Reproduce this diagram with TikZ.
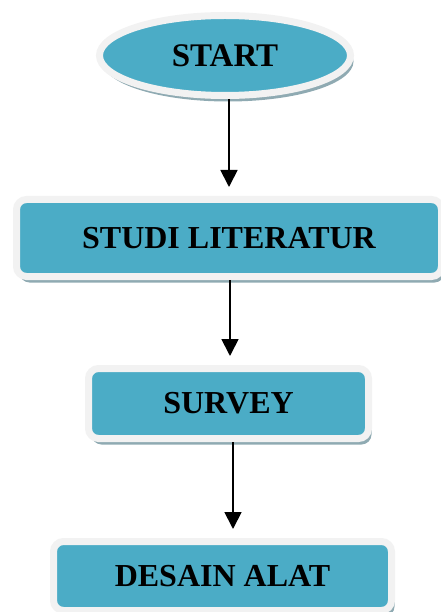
\documentclass[tikz,border=0pt]{standalone}
\usepackage{fontspec}
\setmainfont{Liberation Serif}
\usetikzlibrary{shapes.geometric, arrows.meta, shadows}
\definecolor{boxblue}{HTML}{4BACC6}
\definecolor{rimwhite}{HTML}{F2F2F2}
\definecolor{shadowgray}{HTML}{8FAAB2}
\tikzstyle{startstop} = [ellipse, minimum width=251pt, minimum height=80pt, inner sep=0pt, text centered, draw=rimwhite, line width=7pt, fill=boxblue, font=\bfseries\fontsize{33}{36}\selectfont, drop shadow={shadow xshift=3pt, shadow yshift=-6pt, fill=shadowgray, opacity=1}]
\tikzstyle{process} = [rectangle, rounded corners=10pt, inner sep=0pt, text centered, draw=rimwhite, line width=7pt, fill=boxblue, font=\bfseries\fontsize{32}{36}\selectfont, drop shadow={shadow xshift=3pt, shadow yshift=-6pt, fill=shadowgray, opacity=1}]
\tikzstyle{arrow} = [line width=1.8pt, -{Triangle[width=17pt,length=17pt]}, shorten >=9pt]

\begin{document}
\begin{tikzpicture}[x=1pt, y=-1pt]
\useasboundingbox (0,0) rectangle (440,612);

\node (start) [startstop] at (225,55.5) {START};
\node (studi) [process, minimum width=425pt, minimum height=77pt, below of=start, node distance=182.5pt, xshift=4pt] {STUDI LITERATUR};
\node (survey) [process, minimum width=280pt, minimum height=70pt, below of=studi, node distance=165.5pt, xshift=-0.5pt] {SURVEY};
\node (desain) [process, minimum width=338pt, minimum height=69pt, below of=survey, node distance=172.5pt, xshift=-6pt] {DESAIN ALAT};

\draw [arrow] ([xshift=4pt]start.south) -- ([xshift=4pt]start.south |- studi.north);
\draw [arrow] ([xshift=1pt]studi.south) -- ([xshift=1pt]studi.south |- survey.north);
\draw [arrow] ([xshift=4.5pt]survey.south) -- ([xshift=4.5pt]survey.south |- desain.north);

\end{tikzpicture}
\end{document}
